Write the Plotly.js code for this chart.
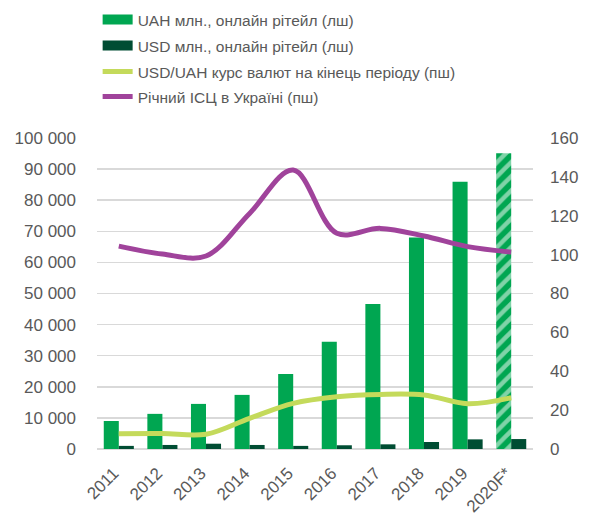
<!DOCTYPE html>
<html>
<head>
<meta charset="utf-8">
<script src="https://cdn.plot.ly/plotly-3.0.1.min.js"></script>
<style>html,body{margin:0;padding:0;background:#fff;}#chart{width:599px;height:516px;}</style>
</head>
<body>
<div id="chart"></div>
<script>
const years = ['2011','2012','2013','2014','2015','2016','2017','2018','2019','2020F*'];
const uahValues = [9000, 11300, 14500, 17400, 24100, 34500, 46600, 68000, 85900, 95100];
const usdValues = [1000, 1300, 1700, 1300, 1000, 1200, 1500, 2250, 3100, 3200];
const rateValues = [7.9, 8.0, 7.6, 15.8, 23.5, 26.9, 28.1, 27.8, 23.3, 26.4];
const cpiValues = [104.4, 100.3, 99.3, 121.2, 143.5, 111.0, 113.5, 109.6, 104.1, 101.3];
const patternShapes = ['', '', '', '', '', '', '', '', '', '/'];
const legendNames = [
  'UAH млн., онлайн рітейл (лш)',
  'USD млн., онлайн рітейл (лш)',
  'USD/UAH курс валют на кінець періоду (пш)',
  'Річний ІСЦ в Україні (пш)'
];

const FONT = '"Liberation Sans", Arial, sans-serif';
const C_UAH = '#00A651', C_USD = '#004D33', C_RATE = '#C4DA5B', C_CPI = '#A0439B';

const traces = [
  {type:'bar', x: years, y: uahValues, name: legendNames[0], showlegend:false,
   marker:{color:C_UAH, pattern:{shape: patternShapes, fillmode:'overlay', fgcolor:'#ffffff', size:10, solidity:0.45}}},
  {type:'bar', x: years, y: usdValues, name: legendNames[1], showlegend:false,
   marker:{color:C_USD}},
  {type:'scatter', mode:'lines', x: years, y: rateValues, yaxis:'y2', name: legendNames[2], showlegend:false,
   line:{color:C_RATE, width:5, shape:'spline', smoothing:1}},
  {type:'scatter', mode:'lines', x: years, y: cpiValues, yaxis:'y2', name: legendNames[3], showlegend:false,
   line:{color:C_CPI, width:5, shape:'spline', smoothing:1}},
  // legend entries
  {type:'scatter', mode:'lines', x:[null], y:[null], name: legendNames[0], legend:'legend', line:{color:C_UAH, width:10}},
  {type:'scatter', mode:'lines', x:[null], y:[null], name: legendNames[1], legend:'legend2', line:{color:C_USD, width:10}},
  {type:'scatter', mode:'lines', x:[null], y:[null], name: legendNames[2], legend:'legend3', line:{color:C_RATE, width:5}},
  {type:'scatter', mode:'lines', x:[null], y:[null], name: legendNames[3], legend:'legend4', line:{color:C_CPI, width:5}}
];

function leg(cy) {
  return {xref:'container', x:0.163, xanchor:'left', yref:'container', y:1 - cy/516, yanchor:'middle',
          font:{size:15.5, color:'#595959'}, bgcolor:'rgba(0,0,0,0)', itemwidth:30};
}

const layout = {
  width:599, height:516,
  margin:{l:97, r:66, t:138, b:67, autoexpand:false},
  paper_bgcolor:'#ffffff', plot_bgcolor:'#ffffff',
  font:{family:FONT, color:'#595959', size:17},
  separators:'. ',
  barmode:'group', bargap:0.31, bargroupgap:0,
  showlegend:true,
  legend: leg(20), legend2: leg(46), legend3: leg(72), legend4: leg(97),
  xaxis:{type:'category', tickangle:-45, showgrid:false, showline:false, ticks:'',
         tickfont:{size:17}, ticklabelstandoff:10, ticklabelshift:-5, fixedrange:true},
  yaxis:{range:[0,100000], dtick:10000, tickformat:',d', showgrid:true, gridcolor:'#D9D9D9', gridwidth:1.5,
         zeroline:true, zerolinecolor:'#D9D9D9', zerolinewidth:1.5, showline:false, ticks:'',
         tickfont:{size:17}, ticklabelstandoff:20},
  yaxis2:{range:[0,160], dtick:20, overlaying:'y', side:'right', showgrid:false, zeroline:false,
          showline:false, ticks:'', tickfont:{size:17}, ticklabelstandoff:16}
};

Plotly.newPlot('chart', traces, layout, {staticPlot:true, displayModeBar:false});
</script>
</body>
</html>
